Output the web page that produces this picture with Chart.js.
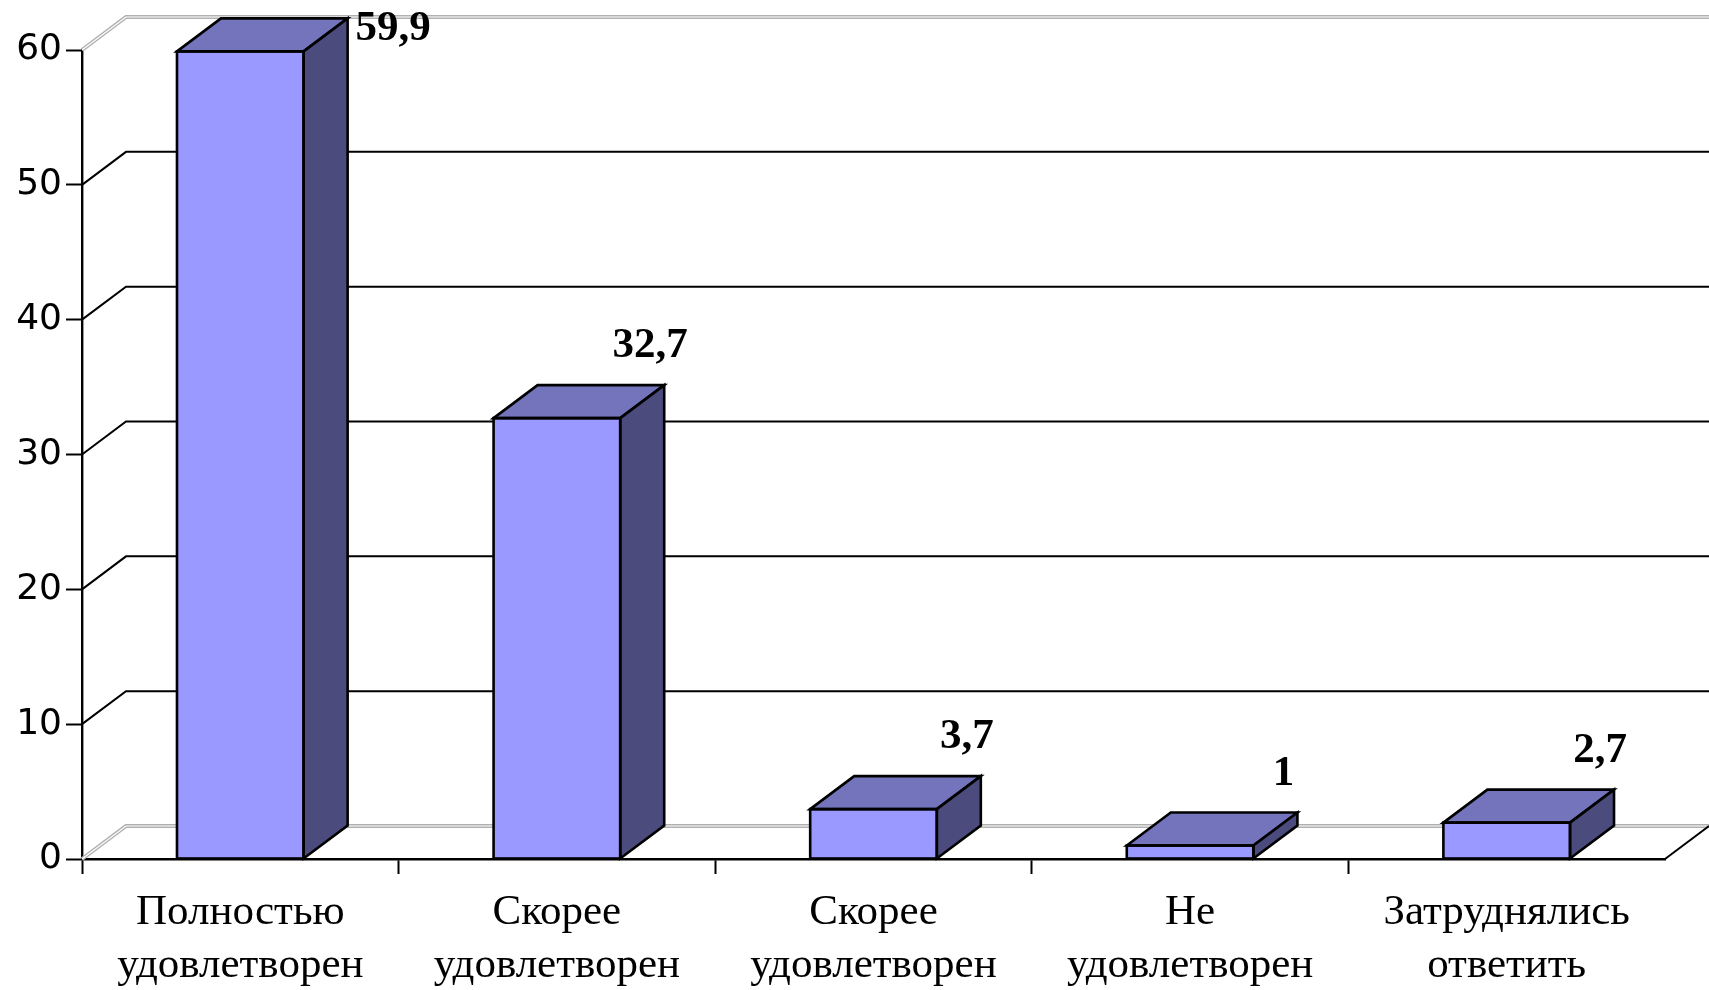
<!DOCTYPE html>
<html>
<head>
<meta charset="utf-8">
<script src="https://cdn.jsdelivr.net/npm/chart.js@4.4.1/dist/chart.umd.min.js"></script>
<style>
html, body { margin: 0; padding: 0; background: #fff; }
#wrap { width: 1709px; height: 990px; }
</style>
</head>
<body>
<div id="wrap"><canvas id="chart1"></canvas></div>
<script>
var categories = [
	['Полностью', 'удовлетворен'],
	['Скорее', 'удовлетворен'],
	['Скорее', 'удовлетворен'],
	['Не', 'удовлетворен'],
	['Затруднялись', 'ответить']
];
var values = [59.9, 32.7, 3.7, 1, 2.7];
var valueLabels = ['59,9', '32,7', '3,7', '1', '2,7'];
var yTicks = [0, 10, 20, 30, 40, 50, 60];

var DX = 44, DY = -33;
var frontColor = '#9999ff';
var topColor = '#7474bd';
var sideColor = '#4b4b7d';

// back wall, floor, gridlines and the 3d faces of the bars
var wallPlugin = {
	id: 'wall',
	beforeDatasetsDraw: function(chart) {
		var ctx = chart.ctx;
		var area = chart.chartArea;
		var y = chart.scales.y;
		ctx.save();
		ctx.lineCap = 'butt';
		for (var i = 0; i < yTicks.length; i++) {
			var py = y.getPixelForValue(yTicks[i]);
			var edge = (i === 0 || i === yTicks.length - 1);
			var path = function() {
				ctx.beginPath();
				ctx.moveTo(area.left, py);
				ctx.lineTo(area.left + DX, py + DY);
				ctx.lineTo(chart.width, py + DY);
				ctx.stroke();
			};
			if (edge) {
				ctx.strokeStyle = '#b0b0b0';
				ctx.lineWidth = 4;
				path();
				ctx.strokeStyle = '#ffffff';
				ctx.lineWidth = 1.2;
				path();
			} else {
				ctx.strokeStyle = '#000';
				ctx.lineWidth = 2;
				path();
			}
		}
		// floor right edge
		var p0 = y.getPixelForValue(0);
		ctx.strokeStyle = '#000';
		ctx.lineWidth = 2;
		ctx.beginPath();
		ctx.moveTo(area.right, p0);
		ctx.lineTo(area.right + DX, p0 + DY);
		ctx.stroke();
		ctx.restore();
	},
	afterDatasetsDraw: function(chart) {
		var ctx = chart.ctx;
		var meta = chart.getDatasetMeta(0);
		ctx.save();
		ctx.lineWidth = 2.6;
		ctx.strokeStyle = '#000';
		ctx.lineJoin = 'miter';
		meta.data.forEach(function(bar, i) {
			var p = bar.getProps(['x', 'y', 'base', 'width'], true);
			var l = p.x - p.width / 2, r = p.x + p.width / 2;
			var t = p.y, b = p.base;
			// top face
			ctx.fillStyle = topColor;
			ctx.beginPath();
			ctx.moveTo(l, t);
			ctx.lineTo(l + DX, t + DY);
			ctx.lineTo(r + DX, t + DY);
			ctx.lineTo(r, t);
			ctx.closePath();
			ctx.fill();
			ctx.stroke();
			// side face
			ctx.fillStyle = sideColor;
			ctx.beginPath();
			ctx.moveTo(r, t);
			ctx.lineTo(r + DX, t + DY);
			ctx.lineTo(r + DX, b + DY);
			ctx.lineTo(r, b);
			ctx.closePath();
			ctx.fill();
			ctx.stroke();
			// front outline
			ctx.strokeRect(l, t, r - l, b - t);
			// value label
			ctx.fillStyle = '#000';
			ctx.font = 'bold 43px "Liberation Serif"';
			ctx.textBaseline = 'middle';
			var ly = t + DY - 39;
			if (ly < 20) {
				ctx.textAlign = 'left';
				ctx.fillText(valueLabels[i], r + DX + 8, 29);
			} else {
				ctx.textAlign = 'center';
				ctx.fillText(valueLabels[i], r + DX - 14, ly);
			}
		});
		ctx.restore();
	}
};

var ctx = document.getElementById('chart1').getContext('2d');
new Chart(ctx, {
	type: 'bar',
	data: {
		labels: categories,
		datasets: [{
			data: values,
			backgroundColor: frontColor,
			borderWidth: 0,
			categoryPercentage: 1,
			barPercentage: 0.4
		}]
	},
	plugins: [wallPlugin],
	options: {
		responsive: true,
		maintainAspectRatio: false,
		animation: false,
		layout: { padding: { top: 50, right: 44, left: 0, bottom: 0 } },
		plugins: {
			legend: { display: false },
			tooltip: { enabled: false }
		},
		scales: {
			x: {
				afterFit: function(scale) { scale.height = 131; },
				border: { display: true, color: '#000', width: 2.4 },
				grid: {
					offset: true,
					drawOnChartArea: false,
					drawTicks: true,
					tickLength: 15,
					tickWidth: 2,
					tickColor: function(c) { return c.type === 'tick' ? '#000' : 'rgba(0,0,0,0)'; }
				},
				ticks: {
					color: '#000',
					font: { family: '"Liberation Serif"', size: 43, lineHeight: 1.24 },
					padding: 12,
					maxRotation: 0
				}
			},
			y: {
				min: 0,
				max: 60,
				afterFit: function(scale) { scale.width = 82; },
				border: { display: true, color: '#000', width: 2.4 },
				grid: {
					drawOnChartArea: false,
					drawTicks: true,
					tickLength: 16,
					tickWidth: 2,
					tickColor: '#000'
				},
				ticks: {
					stepSize: 10,
					color: '#000',
					padding: 4,
					font: { family: '"DejaVu Sans"', size: 36 }
				}
			}
		}
	}
});
</script>
</body>
</html>
